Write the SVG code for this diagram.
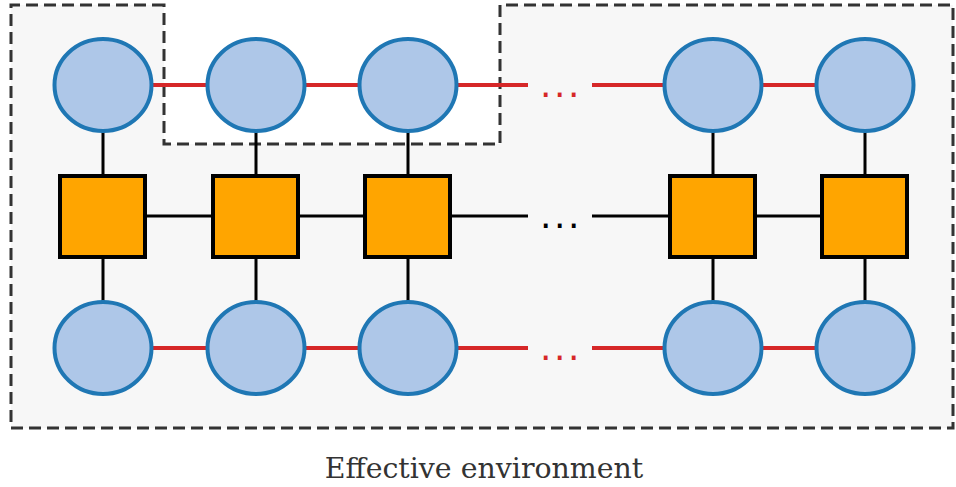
<svg xmlns="http://www.w3.org/2000/svg" width="956" height="487" viewBox="0 0 956 487">
  <style>
    .env { fill: #f7f7f7; stroke: #333333; stroke-width: 3; stroke-dasharray: 12 6; }
    .site { fill: #aec7e8; stroke: #1f77b4; stroke-width: 4; }
    .tensor { fill: #ffa500; stroke: #000000; stroke-width: 4; }
    .bond { stroke: #d62728; stroke-width: 4; fill: none; }
    .leg { stroke: #000000; stroke-width: 3; fill: none; }
    .dots { font-family: "DejaVu Sans", sans-serif; font-size: 36px; letter-spacing: 2.6px; }
    .caption { font-family: "DejaVu Serif", serif; font-size: 28.4px; fill: #333333; }
  </style>
  <rect width="956" height="487" fill="#ffffff"/>

  <!-- effective environment region -->
  <g id="environment">
    <path class="env" d="M164,5 H11 V428 H953 V5 H500 V144 H164 Z"/>
  </g>

  <!-- connectors -->
  <g id="connectors">
    <line class="bond" x1="103" y1="85" x2="528" y2="85"/>
    <line class="bond" x1="592" y1="85" x2="865" y2="85"/>
    <line class="bond" x1="103" y1="348" x2="528" y2="348"/>
    <line class="bond" x1="592" y1="348" x2="865" y2="348"/>
    <line class="leg" x1="103" y1="216" x2="528" y2="216"/>
    <line class="leg" x1="592" y1="216" x2="865" y2="216"/>
    <line class="leg" x1="103" y1="85" x2="103" y2="348"/>
    <line class="leg" x1="256" y1="85" x2="256" y2="348"/>
    <line class="leg" x1="408" y1="85" x2="408" y2="348"/>
    <line class="leg" x1="713" y1="85" x2="713" y2="348"/>
    <line class="leg" x1="865" y1="85" x2="865" y2="348"/>
    <text class="dots" x="540" y="96.6" fill="#d62728">...</text>
    <text class="dots" x="540" y="227.6" fill="#000000">...</text>
    <text class="dots" x="540" y="359.6" fill="#d62728">...</text>
  </g>

  <!-- top row -->
  <g id="top1"><ellipse class="site" cx="103" cy="85" rx="48.5" ry="46"/></g>
  <g id="top2"><ellipse class="site" cx="256" cy="85" rx="48.5" ry="46"/></g>
  <g id="top3"><ellipse class="site" cx="408" cy="85" rx="48.5" ry="46"/></g>
  <g id="top4"><ellipse class="site" cx="713" cy="85" rx="48.5" ry="46"/></g>
  <g id="top5"><ellipse class="site" cx="865" cy="85" rx="48.5" ry="46"/></g>

  <!-- middle row -->
  <g id="mid1"><rect class="tensor" x="60" y="176" width="85" height="81"/></g>
  <g id="mid2"><rect class="tensor" x="213" y="176" width="85" height="81"/></g>
  <g id="mid3"><rect class="tensor" x="365" y="176" width="85" height="81"/></g>
  <g id="mid4"><rect class="tensor" x="670" y="176" width="85" height="81"/></g>
  <g id="mid5"><rect class="tensor" x="822" y="176" width="85" height="81"/></g>

  <!-- bottom row -->
  <g id="bot1"><ellipse class="site" cx="103" cy="348" rx="48.5" ry="46"/></g>
  <g id="bot2"><ellipse class="site" cx="256" cy="348" rx="48.5" ry="46"/></g>
  <g id="bot3"><ellipse class="site" cx="408" cy="348" rx="48.5" ry="46"/></g>
  <g id="bot4"><ellipse class="site" cx="713" cy="348" rx="48.5" ry="46"/></g>
  <g id="bot5"><ellipse class="site" cx="865" cy="348" rx="48.5" ry="46"/></g>

  <text class="caption" x="484" y="478" text-anchor="middle">Effective environment</text>
</svg>
